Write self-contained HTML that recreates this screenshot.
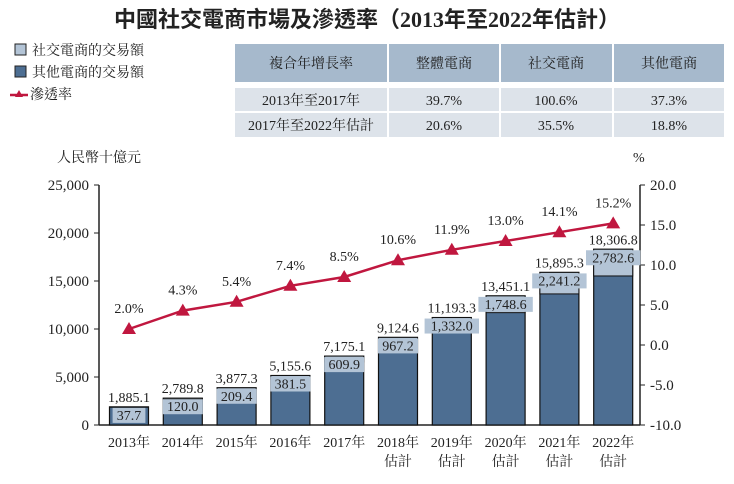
<!DOCTYPE html>
<html><head><meta charset="utf-8">
<style>
body{margin:0;background:#fff;width:734px;height:479px;overflow:hidden;font-family:"Liberation Serif","Noto Serif CJK SC",serif;}
svg text{font-family:"Liberation Serif","Noto Serif CJK TC","Noto Serif CJK SC",serif;fill:#222;}
</style></head><body>
<svg id="c" width="734" height="479">
<text x="367" y="27" text-anchor="middle" font-size="22" font-weight="bold" style="font-family:'Liberation Serif','Noto Sans CJK TC',sans-serif">中國社交電商市場及滲透率（2013年至2022年估計）</text>
<g>
<rect x="15" y="44" width="11" height="11" fill="#b3c4d6" stroke="#222"/>
<text x="32" y="55" font-size="14">社交電商的交易額</text>
<rect x="15" y="66" width="11" height="11" fill="#4d6e92" stroke="#222"/>
<text x="32" y="77" font-size="14">其他電商的交易額</text>
<line x1="10" y1="95" x2="28" y2="95" stroke="#c0173f" stroke-width="2.5"/>
<polygon points="19,90 23,97 15,97" fill="#c0173f"/>
<text x="30" y="99" font-size="14">滲透率</text>
</g>
<g font-size="14">
<rect x="235" y="44" width="152" height="38" fill="#a6b9cc"/><rect x="389" y="44" width="110" height="38" fill="#a6b9cc"/><rect x="501" y="44" width="111" height="38" fill="#a6b9cc"/><rect x="614" y="44" width="110" height="38" fill="#a6b9cc"/>
<rect x="235" y="88" width="152" height="23" fill="#dde3ea"/><rect x="389" y="88" width="110" height="23" fill="#dde3ea"/><rect x="501" y="88" width="111" height="23" fill="#dde3ea"/><rect x="614" y="88" width="110" height="23" fill="#dde3ea"/>
<rect x="235" y="113" width="152" height="24" fill="#dde3ea"/><rect x="389" y="113" width="110" height="24" fill="#dde3ea"/><rect x="501" y="113" width="111" height="24" fill="#dde3ea"/><rect x="614" y="113" width="110" height="24" fill="#dde3ea"/>
<text x="311" y="68" text-anchor="middle">複合年增長率</text>
<text x="444" y="68" text-anchor="middle">整體電商</text>
<text x="556" y="68" text-anchor="middle">社交電商</text>
<text x="669" y="68" text-anchor="middle">其他電商</text>
<text x="311" y="105" text-anchor="middle">2013年至2017年</text>
<text x="444" y="105" text-anchor="middle">39.7%</text><text x="556" y="105" text-anchor="middle">100.6%</text><text x="669" y="105" text-anchor="middle">37.3%</text>
<text x="311" y="130" text-anchor="middle">2017年至2022年估計</text>
<text x="444" y="130" text-anchor="middle">20.6%</text><text x="556" y="130" text-anchor="middle">35.5%</text><text x="669" y="130" text-anchor="middle">18.8%</text>
</g>
<text x="57" y="162" font-size="14">人民幣十億元</text>
<text x="633" y="162" font-size="14">%</text>
<g id="plot"></g>
</svg>
<script>
const years=["2013年","2014年","2015年","2016年","2017年","2018年","2019年","2020年","2021年","2022年"];
const estimated=[false,false,false,false,false,true,true,true,true,true];
const totals=[1885.1,2789.8,3877.3,5155.6,7175.1,9124.6,11193.3,13451.1,15895.3,18306.8];
const social=[37.7,120.0,209.4,381.5,609.9,967.2,1332.0,1748.6,2241.2,2782.6];
const rate=[2.0,4.3,5.4,7.4,8.5,10.6,11.9,13.0,14.1,15.2];
const leftTicks=[0,5000,10000,15000,20000,25000];
const rightTicks=[-10,-5,0,5,10,15,20];
const NS="http://www.w3.org/2000/svg";
const g=document.getElementById('plot');
const X0=99,X1=640,YB=425,YT=185;
const yL=v=>YB-(v/25000)*(YB-YT);
const yR=v=>YB-((v+10)/30)*(YB-YT);
const xC=i=>129+i*53.8;
const BW=39;
function el(t,a,txt){const e=document.createElementNS(NS,t);for(const k in a)e.setAttribute(k,a[k]);if(txt!==undefined)e.textContent=txt;g.appendChild(e);return e;}
const fmt=v=>v.toLocaleString('en-US',{minimumFractionDigits:1,maximumFractionDigits:1});
let e;
e=el('line',{x1:X0,y1:YT,x2:X0,y2:YB,stroke:'#222','stroke-width':1.5});


e=el('line',{x1:X1,y1:YT,x2:X1,y2:YB,stroke:'#222','stroke-width':1.5});


e=el('line',{x1:X0,y1:YB,x2:X1,y2:YB,stroke:'#222','stroke-width':1.5});


leftTicks.forEach(t=>{el('line',{x1:X0-5,y1:yL(t),x2:X0,y2:yL(t),stroke:'#222'});
 e=el('text',{x:X0-10,y:yL(t)+5,'text-anchor':'end','font-size':15},t.toLocaleString('en-US'));
 
 });
rightTicks.forEach(t=>{el('line',{x1:X1,y1:yR(t),x2:X1+5,y2:yR(t),stroke:'#222'});
 e=el('text',{x:X1+10,y:yR(t)+5,'font-size':15},t.toFixed(1));
 
 });
years.forEach((y,i)=>{
 const x=xC(i)-BW/2,top=yL(totals[i]),sb=yL(totals[i]-social[i]);
 e=el('rect',{x:x,y:top,width:BW,height:YB-top,fill:'#4d6e92',stroke:'#111','stroke-width':1.2});
 
 
 e=el('rect',{x:x,y:top,width:BW,height:sb-top,fill:'#b3c4d6',stroke:'#111','stroke-width':1});
 
 
 const lbl=fmt(social[i]);
 const ly=Math.max(top+13,top+13);
 e=el('rect',{x:xC(i)-lbl.length*3.6-2,y:top+1,width:lbl.length*7.2+4,height:15,fill:'#b3c4d6'});
 e=el('text',{x:xC(i),y:top+13,'text-anchor':'middle','font-size':14},lbl);
 
 
 e=el('text',{x:xC(i),y:top-5,'text-anchor':'middle','font-size':14},fmt(totals[i]));
 
 
 e=el('text',{x:xC(i),y:447,'text-anchor':'middle','font-size':14},y);
 
 
 if(estimated[i]){e=el('text',{x:xC(i),y:466,'text-anchor':'middle','font-size':14},'估計');
 
 }
});
e=el('polyline',{points:rate.map((r,i)=>xC(i)+','+yR(r)).join(' '),fill:'none',stroke:'#c0173f','stroke-width':2.5});


rate.forEach((r,i)=>{const x=xC(i),y=yR(r);
 e=el('polygon',{points:`${x},${y-7} ${x+7},${y+5} ${x-7},${y+5}`,fill:'#c0173f'});
 
 
 e=el('text',{x:x,y:y-16,'text-anchor':'middle','font-size':14},r.toFixed(1)+'%');
 
 });
</script>
</body></html>
